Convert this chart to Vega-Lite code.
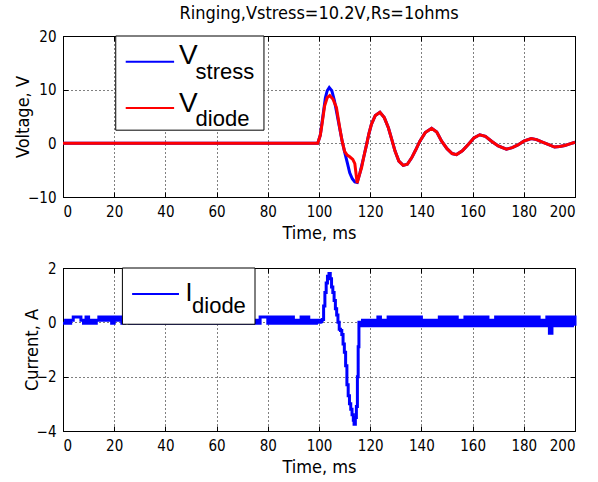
{
  "$schema": "https://vega.github.io/schema/vega-lite/v6.json",
  "background": "white",
  "padding": {"left": 14, "top": 4, "right": 16, "bottom": 5},
  "config": {
    "view": {"stroke": "#000", "strokeWidth": 1},
    "concat": {"spacing": 17},
    "axis": {
      "domain": false, "gridColor": "#000", "gridDash": [1, 3], "gridOpacity": 1, "gridWidth": 1,
      "tickColor": "#000", "tickSize": -5, "tickWidth": 1,
      "labelFont": "Liberation Sans Narrow, Arial Narrow, DejaVu Sans Condensed, Liberation Sans, Arial", "labelFontSize": 15, "labelColor": "#000", "labelPadding": 12,
      "titleFont": "Liberation Sans Narrow, Arial Narrow, DejaVu Sans Condensed, Liberation Sans, Arial", "titleFontSize": 18, "titleFontWeight": "normal", "titleColor": "#000"
    },
    "axisX": {"titlePadding": 5},
    "axisY": {"titlePadding": -5}
  },
  "datasets": {
    "volt": [
      {"t": 0, "v": 0, "s": "Vstress"}, {"t": 99.5, "v": 0, "s": "Vstress"}, {"t": 100.5, "v": 1.5, "s": "Vstress"},
      {"t": 101.5, "v": 5, "s": "Vstress"}, {"t": 102.5, "v": 8.5, "s": "Vstress"}, {"t": 103.2, "v": 9.8, "s": "Vstress"},
      {"t": 104, "v": 10.4, "s": "Vstress"}, {"t": 105, "v": 9.8, "s": "Vstress"}, {"t": 106, "v": 8.0, "s": "Vstress"},
      {"t": 107, "v": 5.5, "s": "Vstress"}, {"t": 108, "v": 3.0, "s": "Vstress"}, {"t": 109, "v": 0.5, "s": "Vstress"},
      {"t": 110, "v": -1.6, "s": "Vstress"}, {"t": 111, "v": -3.5, "s": "Vstress"}, {"t": 112, "v": -5.5, "s": "Vstress"},
      {"t": 113, "v": -6.6, "s": "Vstress"}, {"t": 114, "v": -7.2, "s": "Vstress"}, {"t": 114.9, "v": -7.3, "s": "Vstress"},
      {"t": 116, "v": -5.5, "s": "Vstress"}, {"t": 117.5, "v": -2.5, "s": "Vstress"}, {"t": 118.6, "v": -0.2, "s": "Vstress"},
      {"t": 119.5, "v": 1.8, "s": "Vstress"}, {"t": 120.5, "v": 3.6, "s": "Vstress"}, {"t": 122, "v": 5.2, "s": "Vstress"},
      {"t": 123.8, "v": 5.8, "s": "Vstress"}, {"t": 125.5, "v": 4.8, "s": "Vstress"}, {"t": 127.1, "v": 2.9, "s": "Vstress"},
      {"t": 128.5, "v": 0.6, "s": "Vstress"}, {"t": 129.7, "v": -1.45, "s": "Vstress"}, {"t": 131.2, "v": -3.3, "s": "Vstress"},
      {"t": 132.9, "v": -4.1, "s": "Vstress"}, {"t": 134.5, "v": -3.9, "s": "Vstress"}, {"t": 136.2, "v": -2.7, "s": "Vstress"},
      {"t": 137.8, "v": -1.2, "s": "Vstress"}, {"t": 139.4, "v": 0.4, "s": "Vstress"}, {"t": 141.5, "v": 2.0, "s": "Vstress"},
      {"t": 144, "v": 2.8, "s": "Vstress"}, {"t": 146, "v": 2.1, "s": "Vstress"}, {"t": 147.9, "v": 0.4, "s": "Vstress"},
      {"t": 150, "v": -1.0, "s": "Vstress"}, {"t": 152, "v": -1.9, "s": "Vstress"}, {"t": 153.7, "v": -2.1, "s": "Vstress"},
      {"t": 156, "v": -1.4, "s": "Vstress"}, {"t": 158.3, "v": -0.2, "s": "Vstress"}, {"t": 160.5, "v": 1.0, "s": "Vstress"},
      {"t": 162.8, "v": 1.6, "s": "Vstress"}, {"t": 165, "v": 1.3, "s": "Vstress"}, {"t": 167.4, "v": 0.4, "s": "Vstress"},
      {"t": 170, "v": -0.5, "s": "Vstress"}, {"t": 173.2, "v": -1.1, "s": "Vstress"}, {"t": 175.5, "v": -0.8, "s": "Vstress"},
      {"t": 177.7, "v": -0.3, "s": "Vstress"}, {"t": 180, "v": 0.4, "s": "Vstress"}, {"t": 182.9, "v": 0.9, "s": "Vstress"},
      {"t": 185, "v": 0.7, "s": "Vstress"}, {"t": 187.5, "v": 0.2, "s": "Vstress"}, {"t": 190, "v": -0.3, "s": "Vstress"},
      {"t": 192, "v": -0.7, "s": "Vstress"}, {"t": 194, "v": -0.6, "s": "Vstress"}, {"t": 196, "v": -0.4, "s": "Vstress"},
      {"t": 198, "v": -0.1, "s": "Vstress"}, {"t": 200, "v": 0.2, "s": "Vstress"},
      {"t": 0, "v": 0, "s": "Vdiode"}, {"t": 99.5, "v": 0, "s": "Vdiode"}, {"t": 100.5, "v": 1.5, "s": "Vdiode"},
      {"t": 101, "v": 3.0, "s": "Vdiode"}, {"t": 102.2, "v": 7.0, "s": "Vdiode"}, {"t": 103.2, "v": 8.5, "s": "Vdiode"},
      {"t": 104.2, "v": 8.9, "s": "Vdiode"}, {"t": 105.5, "v": 8.2, "s": "Vdiode"}, {"t": 106.8, "v": 6.7, "s": "Vdiode"},
      {"t": 108.1, "v": 2.9, "s": "Vdiode"}, {"t": 109, "v": 0.5, "s": "Vdiode"}, {"t": 110, "v": -1.5, "s": "Vdiode"},
      {"t": 111, "v": -2.2, "s": "Vdiode"}, {"t": 112, "v": -2.5, "s": "Vdiode"}, {"t": 113.2, "v": -3.0, "s": "Vdiode"},
      {"t": 114, "v": -3.8, "s": "Vdiode"}, {"t": 114.9, "v": -7.4, "s": "Vdiode"}, {"t": 116, "v": -5.5, "s": "Vdiode"},
      {"t": 116.6, "v": -4.6, "s": "Vdiode"}, {"t": 117.5, "v": -2.5, "s": "Vdiode"}, {"t": 118.6, "v": -0.2, "s": "Vdiode"},
      {"t": 119.5, "v": 1.8, "s": "Vdiode"}, {"t": 120.5, "v": 3.6, "s": "Vdiode"}, {"t": 122, "v": 5.2, "s": "Vdiode"},
      {"t": 123.8, "v": 5.8, "s": "Vdiode"}, {"t": 125.5, "v": 4.8, "s": "Vdiode"}, {"t": 127.1, "v": 2.9, "s": "Vdiode"},
      {"t": 128.5, "v": 0.6, "s": "Vdiode"}, {"t": 129.7, "v": -1.45, "s": "Vdiode"}, {"t": 131.2, "v": -3.3, "s": "Vdiode"},
      {"t": 132.9, "v": -4.1, "s": "Vdiode"}, {"t": 134.5, "v": -3.9, "s": "Vdiode"}, {"t": 136.2, "v": -2.7, "s": "Vdiode"},
      {"t": 137.8, "v": -1.2, "s": "Vdiode"}, {"t": 139.4, "v": 0.4, "s": "Vdiode"}, {"t": 141.5, "v": 2.0, "s": "Vdiode"},
      {"t": 144, "v": 2.8, "s": "Vdiode"}, {"t": 146, "v": 2.1, "s": "Vdiode"}, {"t": 147.9, "v": 0.4, "s": "Vdiode"},
      {"t": 150, "v": -1.0, "s": "Vdiode"}, {"t": 152, "v": -1.9, "s": "Vdiode"}, {"t": 153.7, "v": -2.1, "s": "Vdiode"},
      {"t": 156, "v": -1.4, "s": "Vdiode"}, {"t": 158.3, "v": -0.2, "s": "Vdiode"}, {"t": 160.5, "v": 1.0, "s": "Vdiode"},
      {"t": 162.8, "v": 1.6, "s": "Vdiode"}, {"t": 165, "v": 1.3, "s": "Vdiode"}, {"t": 167.4, "v": 0.4, "s": "Vdiode"},
      {"t": 170, "v": -0.5, "s": "Vdiode"}, {"t": 173.2, "v": -1.1, "s": "Vdiode"}, {"t": 175.5, "v": -0.8, "s": "Vdiode"},
      {"t": 177.7, "v": -0.3, "s": "Vdiode"}, {"t": 180, "v": 0.4, "s": "Vdiode"}, {"t": 182.9, "v": 0.9, "s": "Vdiode"},
      {"t": 185, "v": 0.7, "s": "Vdiode"}, {"t": 187.5, "v": 0.2, "s": "Vdiode"}, {"t": 190, "v": -0.3, "s": "Vdiode"},
      {"t": 192, "v": -0.7, "s": "Vdiode"}, {"t": 194, "v": -0.6, "s": "Vdiode"}, {"t": 196, "v": -0.4, "s": "Vdiode"},
      {"t": 198, "v": -0.1, "s": "Vdiode"}, {"t": 200, "v": 0.2, "s": "Vdiode"}
    ],
    "cur": [
      {"t": 0, "i": -0.03}, {"t": 1, "i": 0.08}, {"t": 2, "i": -0.03}, {"t": 3, "i": 0.08}, {"t": 4, "i": 0.2},
      {"t": 5, "i": 0.2}, {"t": 6, "i": 0.2}, {"t": 7, "i": 0.08}, {"t": 8, "i": -0.03}, {"t": 9, "i": 0.2},
      {"t": 10, "i": -0.03}, {"t": 11, "i": 0.08}, {"t": 12, "i": -0.03}, {"t": 13, "i": 0.08}, {"t": 14, "i": 0.2},
      {"t": 15, "i": 0.08}, {"t": 16, "i": 0.2}, {"t": 17, "i": 0.08}, {"t": 18, "i": 0.2}, {"t": 19, "i": -0.03},
      {"t": 20, "i": 0.2}, {"t": 21, "i": 0.08}, {"t": 22, "i": 0.2}, {"t": 23, "i": -0.03}, {"t": 24, "i": 0.08},
      {"t": 25, "i": 0.08}, {"t": 26, "i": -0.03}, {"t": 27, "i": 0.08}, {"t": 28, "i": -0.03}, {"t": 29, "i": 0.08},
      {"t": 30, "i": -0.03}, {"t": 31, "i": 0.08}, {"t": 32, "i": -0.03}, {"t": 33, "i": 0.08}, {"t": 34, "i": -0.03},
      {"t": 35, "i": 0.08}, {"t": 36, "i": -0.03}, {"t": 37, "i": 0.08}, {"t": 38, "i": -0.03}, {"t": 39, "i": 0.08},
      {"t": 40, "i": -0.03}, {"t": 41, "i": 0.08}, {"t": 42, "i": -0.03}, {"t": 43, "i": 0.08}, {"t": 44, "i": -0.03},
      {"t": 45, "i": 0.08}, {"t": 46, "i": -0.03}, {"t": 47, "i": 0.08}, {"t": 48, "i": -0.03}, {"t": 49, "i": 0.08},
      {"t": 50, "i": -0.03}, {"t": 51, "i": 0.08}, {"t": 52, "i": -0.03}, {"t": 53, "i": 0.08}, {"t": 54, "i": -0.03},
      {"t": 55, "i": 0.08}, {"t": 56, "i": -0.03}, {"t": 57, "i": 0.08}, {"t": 58, "i": -0.03}, {"t": 59, "i": 0.08},
      {"t": 60, "i": -0.03}, {"t": 61, "i": 0.08}, {"t": 62, "i": -0.03}, {"t": 63, "i": 0.08}, {"t": 64, "i": -0.03},
      {"t": 65, "i": 0.08}, {"t": 66, "i": -0.03}, {"t": 67, "i": 0.08}, {"t": 68, "i": -0.03}, {"t": 69, "i": 0.08},
      {"t": 70, "i": -0.03}, {"t": 71, "i": 0.08}, {"t": 72, "i": -0.03}, {"t": 73, "i": 0.08}, {"t": 74, "i": -0.03},
      {"t": 75, "i": 0.08}, {"t": 76, "i": -0.03}, {"t": 77, "i": 0.2}, {"t": 78, "i": 0.2}, {"t": 79, "i": 0.2},
      {"t": 80, "i": -0.03}, {"t": 81, "i": 0.2}, {"t": 82, "i": -0.03}, {"t": 83, "i": 0.2}, {"t": 84, "i": -0.03},
      {"t": 85, "i": 0.2}, {"t": 86, "i": -0.03}, {"t": 87, "i": 0.2}, {"t": 88, "i": -0.03}, {"t": 89, "i": 0.2},
      {"t": 90, "i": -0.03}, {"t": 91, "i": 0.08}, {"t": 92, "i": -0.03}, {"t": 93, "i": 0.2}, {"t": 94, "i": -0.03},
      {"t": 95, "i": 0.2}, {"t": 96, "i": -0.03}, {"t": 97, "i": 0.08}, {"t": 98, "i": -0.03}, {"t": 99, "i": 0.08},
      {"t": 100, "i": 0}, {"t": 100.5, "i": 0.02}, {"t": 101, "i": 0.08}, {"t": 101.3, "i": 0.1}, {"t": 101.8, "i": 0.6},
      {"t": 102.3, "i": 1.1}, {"t": 102.8, "i": 1.45}, {"t": 103.3, "i": 1.7}, {"t": 103.9, "i": 1.8}, {"t": 104.4, "i": 1.6},
      {"t": 104.9, "i": 1.3}, {"t": 105.4, "i": 1.1}, {"t": 105.9, "i": 0.8}, {"t": 106.4, "i": 0.5}, {"t": 106.9, "i": 0.27},
      {"t": 107.4, "i": 0.0}, {"t": 107.9, "i": -0.25}, {"t": 108.4, "i": -0.3}, {"t": 108.9, "i": -0.45}, {"t": 109.4, "i": -0.8},
      {"t": 109.9, "i": -1.1}, {"t": 110.4, "i": -1.6}, {"t": 110.9, "i": -2.3}, {"t": 111.4, "i": -2.7}, {"t": 111.9, "i": -3.0},
      {"t": 112.4, "i": -3.2}, {"t": 112.9, "i": -3.4}, {"t": 113.4, "i": -3.6}, {"t": 113.7, "i": -3.75}, {"t": 114.2, "i": -3.5},
      {"t": 114.6, "i": -3.1}, {"t": 115, "i": -2.0}, {"t": 115.3, "i": -0.9}, {"t": 115.6, "i": 0.0},
      {"t": 116, "i": -0.13}, {"t": 117, "i": 0.08}, {"t": 118, "i": -0.13}, {"t": 119, "i": 0.08}, {"t": 120, "i": -0.13},
      {"t": 121, "i": 0.08}, {"t": 122, "i": -0.13}, {"t": 123, "i": 0.2}, {"t": 124, "i": -0.13}, {"t": 125, "i": 0.08},
      {"t": 126, "i": -0.13}, {"t": 127, "i": 0.2}, {"t": 128, "i": -0.13}, {"t": 129, "i": 0.2}, {"t": 130, "i": -0.13},
      {"t": 131, "i": 0.2}, {"t": 132, "i": -0.13}, {"t": 133, "i": 0.2}, {"t": 134, "i": -0.13}, {"t": 135, "i": 0.2},
      {"t": 136, "i": -0.13}, {"t": 137, "i": 0.2}, {"t": 138, "i": -0.13}, {"t": 139, "i": 0.2}, {"t": 140, "i": -0.13},
      {"t": 141, "i": 0.08}, {"t": 142, "i": -0.13}, {"t": 143, "i": 0.08}, {"t": 144, "i": -0.13}, {"t": 145, "i": 0.08},
      {"t": 146, "i": -0.13}, {"t": 147, "i": 0.2}, {"t": 148, "i": -0.13}, {"t": 149, "i": 0.2}, {"t": 150, "i": -0.13},
      {"t": 151, "i": 0.2}, {"t": 152, "i": -0.13}, {"t": 153, "i": 0.2}, {"t": 154, "i": -0.13}, {"t": 155, "i": 0.08},
      {"t": 156, "i": -0.13}, {"t": 157, "i": 0.2}, {"t": 158, "i": -0.13}, {"t": 159, "i": 0.2}, {"t": 160, "i": -0.13},
      {"t": 161, "i": 0.2}, {"t": 162, "i": -0.13}, {"t": 163, "i": 0.2}, {"t": 164, "i": -0.13}, {"t": 165, "i": 0.2},
      {"t": 166, "i": -0.13}, {"t": 167, "i": 0.08}, {"t": 168, "i": -0.13}, {"t": 169, "i": 0.2}, {"t": 170, "i": -0.13},
      {"t": 171, "i": 0.2}, {"t": 172, "i": -0.13}, {"t": 173, "i": 0.2}, {"t": 174, "i": -0.13}, {"t": 175, "i": 0.2},
      {"t": 176, "i": -0.13}, {"t": 177, "i": 0.2}, {"t": 178, "i": -0.13}, {"t": 179, "i": 0.2}, {"t": 180, "i": -0.13},
      {"t": 181, "i": 0.2}, {"t": 182, "i": -0.13}, {"t": 183, "i": 0.2}, {"t": 184, "i": -0.13}, {"t": 185, "i": 0.2},
      {"t": 186, "i": -0.13}, {"t": 187, "i": 0.08}, {"t": 188, "i": -0.13}, {"t": 189, "i": 0.2}, {"t": 190, "i": -0.4},
      {"t": 191, "i": 0.2}, {"t": 192, "i": -0.13}, {"t": 193, "i": 0.2}, {"t": 194, "i": -0.13}, {"t": 195, "i": 0.2},
      {"t": 196, "i": -0.13}, {"t": 197, "i": 0.2}, {"t": 198, "i": -0.13}, {"t": 199, "i": 0.2}, {"t": 200, "i": -0.13}
    ]
  },
  "vconcat": [
    {
      "width": 512,
      "height": 161,
      "title": {"text": "Ringing,Vstress=10.2V,Rs=1ohms", "font": "Liberation Sans Narrow, Arial Narrow, DejaVu Sans Condensed, Liberation Sans, Arial", "fontSize": 18, "fontWeight": "normal", "color": "#000", "offset": 6},
      "layer": [
        {
          "data": {"name": "volt"},
          "transform": [{"filter": "datum.s === 'Vstress'"}],
          "mark": {"type": "line", "color": "#0000ff", "strokeWidth": 3},
          "encoding": {
            "x": {"field": "t", "type": "quantitative", "scale": {"domain": [0, 200], "nice": false},
                  "axis": {"orient": "bottom", "title": "Time, ms", "grid": true, "values": [0, 20, 40, 60, 80, 100, 120, 140, 160, 180, 200]}},
            "y": {"field": "v", "type": "quantitative", "scale": {"domain": [-10, 20], "nice": false},
                  "axis": {"orient": "left", "title": "Voltage, V", "grid": true, "values": [-10, 0, 10, 20]}}
          }
        },
        {
          "data": {"name": "volt"},
          "transform": [{"filter": "datum.s === 'Vdiode'"}],
          "mark": {"type": "line", "color": "#ff0000", "strokeWidth": 3},
          "encoding": {
            "x": {"field": "t", "type": "quantitative",
                  "axis": {"orient": "top", "title": null, "labels": false, "grid": false, "values": [0, 20, 40, 60, 80, 100, 120, 140, 160, 180, 200]}},
            "y": {"field": "v", "type": "quantitative",
                  "axis": {"orient": "right", "title": null, "labels": false, "grid": false, "values": [-10, 0, 10, 20]}}
          }
        },
        {
          "data": {"values": [{}]},
          "mark": {"type": "rect", "fill": "#ffffff", "stroke": "#000", "strokeWidth": 1},
          "encoding": {"x": {"datum": 20.6, "axis": null}, "x2": {"datum": 78.5}, "y": {"datum": 2.45, "axis": null}, "y2": {"datum": 20}}
        },
        {
          "data": {"values": [{}]},
          "mark": {"type": "rule", "color": "#0000ff", "strokeWidth": 2},
          "encoding": {"x": {"datum": 24.5, "axis": null}, "x2": {"datum": 43.4}, "y": {"datum": 15.2, "axis": null}}
        },
        {
          "data": {"values": [{}]},
          "mark": {"type": "rule", "color": "#ff0000", "strokeWidth": 2},
          "encoding": {"x": {"datum": 24.5, "axis": null}, "x2": {"datum": 43.4}, "y": {"datum": 6.6, "axis": null}}
        },
        {
          "data": {"values": [{}]},
          "mark": {"type": "text", "align": "left", "baseline": "alphabetic", "fontSize": 28, "font": "Liberation Sans, Arial", "color": "#000"},
          "encoding": {"x": {"datum": 45.3, "axis": null}, "y": {"datum": 14.7, "axis": null}, "text": {"value": "V"}}
        },
        {
          "data": {"values": [{}]},
          "mark": {"type": "text", "align": "left", "baseline": "alphabetic", "fontSize": 22, "font": "Liberation Sans, Arial", "color": "#000"},
          "encoding": {"x": {"datum": 51.8, "axis": null}, "y": {"datum": 11.9, "axis": null}, "text": {"value": "stress"}}
        },
        {
          "data": {"values": [{}]},
          "mark": {"type": "text", "align": "left", "baseline": "alphabetic", "fontSize": 28, "font": "Liberation Sans, Arial", "color": "#000"},
          "encoding": {"x": {"datum": 45.3, "axis": null}, "y": {"datum": 5.8, "axis": null}, "text": {"value": "V"}}
        },
        {
          "data": {"values": [{}]},
          "mark": {"type": "text", "align": "left", "baseline": "alphabetic", "fontSize": 22, "font": "Liberation Sans, Arial", "color": "#000"},
          "encoding": {"x": {"datum": 51.8, "axis": null}, "y": {"datum": 3.3, "axis": null}, "text": {"value": "diode"}}
        }
      ]
    },
    {
      "width": 512,
      "height": 163,
      "layer": [
        {
          "data": {"name": "cur"},
          "mark": {"type": "line", "color": "#0000ff", "strokeWidth": 3, "interpolate": "step-after"},
          "encoding": {
            "x": {"field": "t", "type": "quantitative", "scale": {"domain": [0, 200], "nice": false},
                  "axis": {"orient": "bottom", "title": "Time, ms", "grid": true, "values": [0, 20, 40, 60, 80, 100, 120, 140, 160, 180, 200]}},
            "y": {"field": "i", "type": "quantitative", "scale": {"domain": [-4, 2], "nice": false},
                  "axis": {"orient": "left", "title": "Current, A", "grid": true, "values": [-4, -2, 0, 2]}}
          }
        },
        {
          "data": {"name": "cur"},
          "mark": {"type": "line", "opacity": 0},
          "encoding": {
            "x": {"field": "t", "type": "quantitative",
                  "axis": {"orient": "top", "title": null, "labels": false, "grid": false, "values": [0, 20, 40, 60, 80, 100, 120, 140, 160, 180, 200]}},
            "y": {"field": "i", "type": "quantitative",
                  "axis": {"orient": "right", "title": null, "labels": false, "grid": false, "values": [-4, -2, 0, 2]}}
          }
        },
        {
          "data": {"values": [{}]},
          "mark": {"type": "rect", "fill": "#ffffff", "stroke": "#000", "strokeWidth": 1},
          "encoding": {"x": {"datum": 23.2, "axis": null}, "x2": {"datum": 75}, "y": {"datum": -0.07, "axis": null}, "y2": {"datum": 2}}
        },
        {
          "data": {"values": [{}]},
          "mark": {"type": "rule", "color": "#0000ff", "strokeWidth": 2},
          "encoding": {"x": {"datum": 27, "axis": null}, "x2": {"datum": 45.3}, "y": {"datum": 1.04, "axis": null}}
        },
        {
          "data": {"values": [{}]},
          "mark": {"type": "text", "align": "left", "baseline": "alphabetic", "fontSize": 25, "font": "Liberation Sans, Arial", "color": "#000"},
          "encoding": {"x": {"datum": 47.9, "axis": null}, "y": {"datum": 0.77, "axis": null}, "text": {"value": "I"}}
        },
        {
          "data": {"values": [{}]},
          "mark": {"type": "text", "align": "left", "baseline": "alphabetic", "fontSize": 22, "font": "Liberation Sans, Arial", "color": "#000"},
          "encoding": {"x": {"datum": 50.4, "axis": null}, "y": {"datum": 0.33, "axis": null}, "text": {"value": "diode"}}
        }
      ]
    }
  ]
}
